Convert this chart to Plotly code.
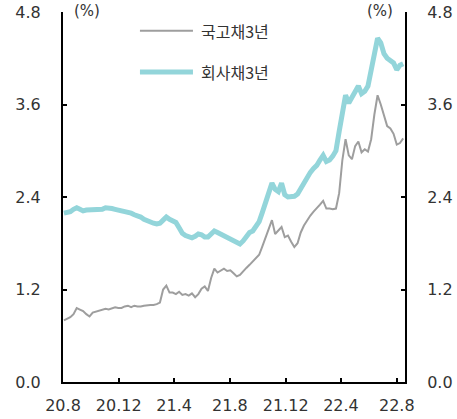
import pandas as pd
import plotly.graph_objects as go

# weekly observations (Mondays) from 2020-08-03
dates = pd.date_range("2020-08-03", periods=107, freq="W-MON")

ktb3y = [0.80, 0.82, 0.84, 0.88, 0.96, 0.94, 0.92, 0.88, 0.85, 0.90,
         0.91, 0.92, 0.94, 0.95, 0.94, 0.96, 0.97, 0.96, 0.96, 0.98,
         0.99, 0.97, 0.99, 0.98, 0.98, 0.99, 1.00, 1.00, 1.00, 1.01,
         1.03, 1.20, 1.25, 1.16, 1.16, 1.14, 1.17, 1.13, 1.14, 1.12,
         1.15, 1.10, 1.14, 1.21, 1.24, 1.18, 1.35, 1.47, 1.42, 1.45,
         1.47, 1.44, 1.45, 1.41, 1.37, 1.39, 1.44, 1.48, 1.52, 1.56,
         1.60, 1.65, 1.76, 1.88, 2.00, 2.10, 1.92, 1.97, 2.01, 1.88,
         1.90, 1.82, 1.75, 1.80, 1.94, 2.03, 2.10, 2.16, 2.21, 2.25,
         2.30, 2.35, 2.25, 2.25, 2.24, 2.25, 2.45, 2.88, 3.15, 2.94,
         2.89, 3.06, 3.12, 2.98, 3.02, 2.99, 3.15, 3.47, 3.72, 3.60,
         3.45, 3.32, 3.29, 3.22, 3.08, 3.10, 3.16]

corp3y = [2.19, 2.20, 2.21, 2.24, 2.26, 2.24, 2.22, 2.23, 2.23, 2.24,
          2.23, 2.24, 2.24, 2.26, 2.26, 2.25, 2.24, 2.23, 2.22, 2.21,
          2.21, 2.19, 2.17, 2.16, 2.14, 2.11, 2.09, 2.07, 2.06, 2.05,
          2.06, 2.10, 2.14, 2.11, 2.09, 2.07, 2.00, 1.93, 1.90, 1.88,
          1.87, 1.89, 1.92, 1.91, 1.88, 1.88, 1.92, 1.96, 1.94, 1.92,
          1.90, 1.87, 1.85, 1.83, 1.81, 1.79, 1.83, 1.89, 1.94, 1.96,
          2.01, 2.08, 2.20, 2.32, 2.45, 2.58, 2.50, 2.47, 2.58, 2.43,
          2.40, 2.40, 2.41, 2.44, 2.51, 2.60, 2.66, 2.72, 2.77, 2.81,
          2.88, 2.94, 2.86, 2.88, 2.93, 3.00, 3.25, 3.52, 3.72, 3.62,
          3.70, 3.79, 3.84, 3.74, 3.77, 3.84, 4.05, 4.23, 4.46, 4.40,
          4.26, 4.20, 4.17, 4.14, 4.05, 4.11, 4.13]

series_names = ["국고채3년", "회사채3년"]
x_tickvals = ["2020-08-01", "2020-12-01", "2021-04-01", "2021-08-01",
              "2021-12-01", "2022-04-01", "2022-08-01"]
x_ticktext = ["20.8", "20.12", "21.4", "21.8", "21.12", "22.4", "22.8"]
y_tickvals = [0.0, 1.2, 2.4, 3.6, 4.8]
y_ticktext = ["0.0", "1.2", "2.4", "3.6", "4.8"]

GRAY = "#9E9E9E"
TEAL = "#93D5DA"
FONT = "DejaVu Sans, sans-serif"
KFONT = "Noto Sans CJK KR, sans-serif"
TXT = "#333333"

fig = go.Figure()
fig.add_trace(go.Scatter(x=dates, y=corp3y, mode="lines", name=series_names[1],
                         line=dict(color=TEAL, width=5), yaxis="y2",
                         showlegend=False))
fig.add_trace(go.Scatter(x=dates, y=ktb3y, mode="lines", name=series_names[0],
                         line=dict(color=GRAY, width=2), showlegend=False))

axis_common = dict(range=[0, 4.8], tickvals=y_tickvals, ticktext=y_ticktext,
                   ticks="inside", ticklen=4, tickwidth=1.5, tickcolor="black",
                   showline=True, linecolor="black", linewidth=2,
                   showgrid=False, zeroline=False, ticklabelstandoff=17,
                   automargin=False,
                   tickfont=dict(family=FONT, size=16, color=TXT))

fig.update_layout(
    width=457, height=419,
    margin=dict(l=63, r=52, t=12, b=37),
    paper_bgcolor="white", plot_bgcolor="white",
    xaxis=dict(type="date", range=["2020-08-01", "2022-08-19"],
               tickvals=x_tickvals, ticktext=x_ticktext,
               ticks="inside", ticklen=4, tickwidth=1.5, tickcolor="black",
               showline=True, linecolor="black", linewidth=2,
               showgrid=False, zeroline=False, ticklabelstandoff=8,
               automargin=False,
               tickfont=dict(family=FONT, size=16, color=TXT)),
    yaxis=dict(side="left", **axis_common),
    yaxis2=dict(side="right", overlaying="y", **axis_common),
)

# "(%)" unit labels
fig.add_annotation(text="(%)", xref="paper", yref="paper", x=0.070, y=1.002,
                   showarrow=False, xanchor="center", yanchor="middle",
                   font=dict(family=FONT, size=15, color=TXT))
fig.add_annotation(text="(%)", xref="paper", yref="paper", x=0.927, y=1.002,
                   showarrow=False, xanchor="center", yanchor="middle",
                   font=dict(family=FONT, size=15, color=TXT))

# manual legend
legend_rows = [(series_names[0], GRAY, 2, 0.949), (series_names[1], TEAL, 5, 0.838)]
for name, color, w, yp in legend_rows:
    fig.add_shape(type="line", xref="paper", yref="paper", x0=0.225, x1=0.380,
                  y0=yp, y1=yp, line=dict(color=color, width=w))
    fig.add_annotation(text=name, xref="paper", yref="paper", x=0.398, y=yp,
                       showarrow=False, xanchor="left", yanchor="middle",
                       font=dict(family=KFONT, size=16, color=TXT))

fig.write_html("out.html")
